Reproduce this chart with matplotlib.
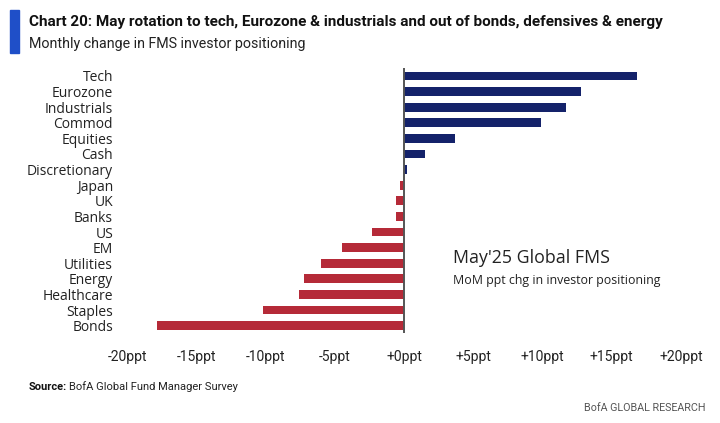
import matplotlib
matplotlib.use('Agg')
import matplotlib.pyplot as plt
import numpy as np

categories = ['Tech', 'Eurozone', 'Industrials', 'Commod', 'Equities', 'Cash',
              'Discretionary', 'Japan', 'UK', 'Banks', 'US', 'EM', 'Utilities',
              'Energy', 'Healthcare', 'Staples', 'Bonds']
changes = [16.8, 12.8, 11.7, 9.9, 3.7, 1.5, 0.2, -0.3, -0.6, -0.6, -2.3,
           -4.5, -6.0, -7.2, -7.6, -10.2, -17.8]
tick_vals = [-20, -15, -10, -5, 0, 5, 10, 15, 20]
tick_labels = ['-20ppt', '-15ppt', '-10ppt', '-5ppt', '+0ppt', '+5ppt',
               '+10ppt', '+15ppt', '+20ppt']

navy = '#14226a'
red = '#b52a38'
narrow = ['Roboto', 'DejaVu Sans']
regular = ['Open Sans', 'DejaVu Sans']

fig = plt.figure(figsize=(7.2, 4.23), dpi=100)
ax = fig.add_axes([0.1764, 0.2116, 0.7694, 0.6274])


def fit(txt, width_px):
    # shrink/grow the font so the text spans the width seen in the reference
    fig.canvas.draw()
    w = txt.get_window_extent().width
    txt.set_fontsize(txt.get_fontsize() * width_px / w)


y = np.arange(len(categories))
colors = [navy if v >= 0 else red for v in changes]
ax.barh(y, changes, height=0.56, color=colors)
ax.axvline(0, color='#555555', lw=1.4)

ax.set_xlim(-20, 20)
ax.set_ylim(len(categories) - 0.5, -0.5)
ax.set_yticks(y)
ax.set_yticklabels(categories, fontsize=10, family=regular, color='#222222')
ax.set_xticks(tick_vals)
ax.set_xticklabels(tick_labels, fontsize=10, family=narrow, color='#222222')
ax.tick_params(axis='both', length=0)
ax.tick_params(axis='y', pad=10)
ax.tick_params(axis='x', pad=12)
for s in ax.spines.values():
    s.set_visible(False)

t1 = ax.text(0.588, 0.284, "May'25 Global FMS", transform=ax.transAxes,
             fontsize=13, family=regular, va='center', color='#222222')
t2 = ax.text(0.588, 0.2, 'MoM ppt chg in investor positioning', transform=ax.transAxes,
             fontsize=9, family=regular, va='center', color='#222222')
fit(t1, 155)
fit(t2, 209)

# header
fig.patches.append(plt.Rectangle((10 / 720, 1 - 53 / 423), 9 / 720, 43 / 423,
                                 transform=fig.transFigure, color='#1f4fc8'))
title = fig.text(29 / 720, 1 - 22 / 423,
                 'Chart 20: May rotation to tech, Eurozone & industrials and out of bonds, defensives & energy',
                 fontsize=11, weight='bold', family=narrow, va='center', color='#111111')
sub = fig.text(29 / 720, 1 - 44 / 423, 'Monthly change in FMS investor positioning',
               fontsize=10.5, family=narrow, va='center', color='#222222')
fit(title, 634)
fit(sub, 278)

# footer
src = fig.text(29 / 720, 1 - 387 / 423, 'Source:', fontsize=8, weight='bold',
               family=narrow, va='center', color='#111111')
fig.canvas.draw()
bb = src.get_window_extent()
fig.text(bb.x1 / 720 + 0.003, 1 - 387 / 423, 'BofA Global Fund Manager Survey',
         fontsize=8, family=narrow, va='center', color='#222222')
brand = fig.text(705 / 720, 1 - 408 / 423, 'BofA GLOBAL RESEARCH', fontsize=8,
                 family=narrow, va='center', ha='right', color='#555555')
fit(brand, 122)

fig.savefig('out.png', dpi=100)
